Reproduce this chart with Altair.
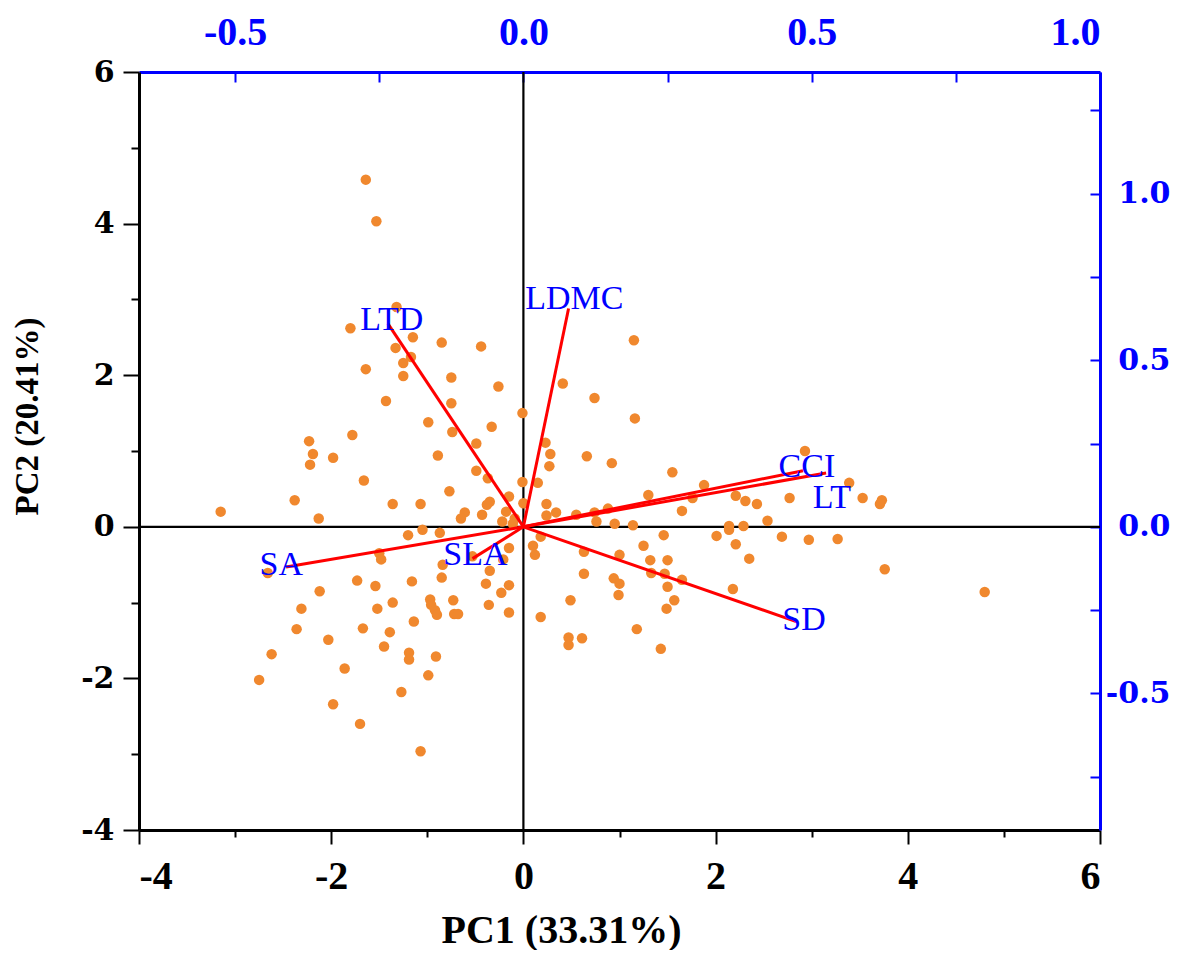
import altair as alt
import pandas as pd

# ---- PCA scores (PC1, PC2) ----
pc1 = [-1.64,-1.53,-1.32,-1.80,-1.15,-1.33,-0.85,-0.44,-1.17,-1.25,-1.64,-1.25,-0.75,-0.26,-1.43,-0.75,-0.01,-0.99,-0.33,-0.74,
       -1.78,-2.23,-0.49,-2.19,-1.98,-0.89,-2.22,-0.49,-1.66,-0.37,-0.01,-0.77,-2.38,-1.36,-1.07,-0.35,-0.38,-0.15,-3.15,-2.13,
       -0.61,-0.65,-0.43,-0.18,0.00,
       1.15,0.41,0.74,1.16,0.23,0.28,0.27,0.66,0.92,2.93,1.55,3.39,0.15,1.88,1.30,1.76,2.21,2.31,2.43,2.77,3.53,3.73,3.71,0.24,
       0.34,0.24,0.55,0.74,0.88,1.65,0.76,0.95,1.14,2.14,2.29,2.54,-0.09,-0.22,
       4.80,3.76,3.27,2.97,2.69,2.35,2.21,2.14,2.01,2.18,0.10,0.12,0.18,0.63,0.63,0.49,0.18,0.47,0.47,0.61,1.00,0.94,1.00,0.99,
       1.18,1.25,1.32,1.46,1.50,1.33,1.47,1.65,1.50,1.57,1.49,1.43,
       -1.20,-1.05,-0.87,-0.11,-1.50,-1.48,-0.84,-0.15,-0.21,-0.35,-0.53,-1.73,-1.54,-1.16,-0.85,-0.39,-0.15,-0.23,-2.12,-2.31,
       -1.52,-1.36,-0.97,-0.96,-0.92,-0.90,-0.73,-0.72,-0.68,-0.36,-0.15,-2.36,-2.03,-1.67,-1.39,-1.14,-2.62,-1.45,-1.19,-1.19,
       -0.91,-1.86,-0.99,-2.75,-1.27,-1.98,-1.70,-1.07,-2.66]
pc2 = [4.58,4.03,2.90,2.62,2.50,2.36,2.43,2.38,2.24,2.16,2.08,1.99,1.97,1.85,1.66,1.63,1.50,1.38,1.32,1.25,
       1.21,1.13,1.10,0.96,0.91,0.94,0.82,0.74,0.61,0.64,0.59,0.47,0.35,0.30,0.30,0.33,0.29,0.40,0.20,0.11,
       0.19,0.11,0.16,0.20,0.31,
       2.46,1.89,1.70,1.43,1.11,0.96,0.80,0.93,0.84,1.00,0.72,0.58,0.58,0.55,0.42,0.38,0.41,0.34,0.30,0.38,0.38,0.35,0.30,0.30,
       0.19,0.15,0.16,0.19,0.24,0.21,0.07,0.04,0.02,0.01,0.01,0.08,0.11,0.07,
       -0.86,-0.56,-0.16,-0.17,-0.13,-0.42,-0.23,-0.04,-0.12,-0.82,-0.25,-0.37,-0.13,-0.33,-0.62,-0.97,-1.19,-1.46,-1.56,-1.47,-0.37,-0.68,-0.75,-0.90,
       -1.35,-0.25,-0.44,-0.11,-0.44,-0.61,-0.62,-0.70,-0.79,-0.97,-1.08,-1.61,
       -0.11,-0.04,-0.08,0.04,-0.35,-0.43,-0.50,-0.28,-0.43,-0.58,-0.39,-0.71,-0.78,-0.72,-0.67,-0.75,-0.77,-0.87,-0.85,-1.08,
       -1.08,-1.00,-0.96,-1.03,-1.10,-1.16,-0.97,-1.15,-1.15,-1.03,-1.13,-1.35,-1.49,-1.34,-1.39,-1.25,-1.68,-1.58,-1.66,-1.75,
       -1.71,-1.87,-1.96,-2.02,-2.18,-2.34,-2.60,-2.96,-0.61]

# ---- loading vectors (end points, drawn in score units) ----
trait = ["LTD", "LDMC", "CCI", "LT", "SA", "SLA", "SD"]
vec_x = [-1.41, 0.47, 2.91, 3.15, -2.47, -0.53, 2.84]
vec_y = [2.68, 2.88, 0.74, 0.71, -0.53, -0.42, -1.25]
lab_x = [-1.37, 0.53, 2.95, 3.21, -2.52, -0.50, 2.92]
lab_y = [2.73, 3.01, 0.79, 0.38, -0.50, -0.37, -1.23]

bottom_ticks = [-4, -3, -2, -1, 0, 1, 2, 3, 4, 5, 6]
left_ticks = [-4, -3, -2, -1, 0, 1, 2, 3, 4, 5, 6]
top_ticks = [-0.5, -0.25, 0.0, 0.25, 0.5, 0.75, 1.0]
right_ticks = [-0.75, -0.5, -0.25, 0.0, 0.25, 0.5, 0.75, 1.0, 1.25]

X_DOM = [-4, 6]
Y_DOM = [-4, 6]
TOP_DOM = [-0.6667, 1.0]
RIGHT_DOM = [-0.91, 1.365]

BLUE = "#0000FF"
ORANGE = "#F0882E"

scores = pd.DataFrame({"pc1": pc1, "pc2": pc2})
vecs = pd.DataFrame({"trait": trait, "x0": 0.0, "y0": 0.0, "x": vec_x, "y": vec_y,
                     "lx": lab_x, "ly": lab_y})

xs = alt.Scale(domain=X_DOM, nice=False, zero=False)
ys = alt.Scale(domain=Y_DOM, nice=False, zero=False)

# zero lines
zero_v = alt.Chart(pd.DataFrame({"v": [0.0]})).mark_rule(color="black", strokeWidth=2.2).encode(
    x=alt.X("v:Q", scale=xs, axis=None))
zero_h = alt.Chart(pd.DataFrame({"v": [0.0]})).mark_rule(color="black", strokeWidth=2.2).encode(
    y=alt.Y("v:Q", scale=ys, axis=None))

minor_odd = "datum.value % 2 != 0"

points = alt.Chart(scores).mark_circle(size=110, color=ORANGE, opacity=1).encode(
    x=alt.X("pc1:Q", scale=xs, axis=alt.Axis(
        orient="bottom", values=bottom_ticks, grid=False,
        labelExpr="datum.value % 2 == 0 ? '' + datum.value : ''",
        labelFont="Liberation Serif", labelFontWeight="bold", labelFontSize=40, labelColor="black",
        labelPadding=12, labelBaseline="top",
        tickColor="black", tickWidth=2,
        tickSize={"condition": {"test": minor_odd, "value": 7}, "value": 14},
        domainColor="black", domainWidth=3,
        title="PC1 (33.31%)", titleFont="Liberation Serif", titleFontWeight="bold",
        titleFontSize=40, titleColor="black", titleX=422, titleY=112,
        titleAlign="center", titleBaseline="alphabetic")),
    y=alt.Y("pc2:Q", scale=ys, axis=alt.Axis(
        orient="left", values=left_ticks, grid=False,
        labelExpr="datum.value % 2 == 0 ? '' + datum.value : ''",
        labelFont="DejaVu Serif", labelFontWeight="bold", labelFontSize=30, labelColor="black",
        labelPadding=9,
        tickColor="black", tickWidth=2,
        tickSize={"condition": {"test": minor_odd, "value": 8}, "value": 16},
        domainColor="black", domainWidth=3,
        title="PC2 (20.41%)", titleFont="Liberation Serif", titleFontWeight="bold",
        titleFontSize=33, titleColor="black", titleAngle=270, titleX=-112, titleY=344,
        titleAlign="center", titleBaseline="middle")),
)

lines = alt.Chart(vecs).mark_rule(color="#FF0000", strokeWidth=3).encode(
    x=alt.X("x0:Q", scale=xs, axis=None),
    y=alt.Y("y0:Q", scale=ys, axis=None),
    x2="x:Q", y2="y:Q")

labels = alt.Chart(vecs).mark_text(
    font="Liberation Serif", fontSize=34, color=BLUE, align="center", baseline="middle").encode(
    x=alt.X("lx:Q", scale=xs, axis=None),
    y=alt.Y("ly:Q", scale=ys, axis=None),
    text="trait:N")

half = "abs(datum.value*2 - round(datum.value*2)) < 0.001"
lab05 = "(datum.value < 0 ? '-' : '') + format(abs(datum.value), '.1f')"

axis_layer = alt.Chart(pd.DataFrame({"t": TOP_DOM, "r": RIGHT_DOM})).mark_point(opacity=0).encode(
    x=alt.X("t:Q", scale=alt.Scale(domain=TOP_DOM, nice=False, zero=False), axis=alt.Axis(
        orient="top", values=top_ticks, grid=False,
        labelExpr=f"{half} ? {lab05} : ''",
        labelFont="Liberation Serif", labelFontWeight="bold", labelFontSize=40, labelColor=BLUE,
        labelPadding=38, labelBaseline="alphabetic",
        tickColor=BLUE, tickWidth=2, tickSize={"expr": "-10"},
        domainColor=BLUE, domainWidth=3, title=None)),
    y=alt.Y("r:Q", scale=alt.Scale(domain=RIGHT_DOM, nice=False, zero=False), axis=alt.Axis(
        orient="right", values=right_ticks, grid=False,
        labelExpr=f"{half} ? {lab05} : ''",
        labelFont="DejaVu Serif", labelFontWeight="bold", labelFontSize=30, labelColor=BLUE,
        labelPadding=80, labelAlign="right", labelBaseline="middle",
        tickColor=BLUE, tickWidth=2, tickSize={"expr": "-10"},
        domainColor=BLUE, domainWidth=3, title=None)),
)

chart = alt.layer(zero_v, zero_h, points, lines, labels, axis_layer).resolve_scale(
    x="independent", y="independent"
).properties(
    width=961, height=758,
    padding={"left": 131, "top": 64, "right": 72, "bottom": 120},
    autosize=alt.AutoSizeParams(type="none"),
    background="white",
).configure_view(stroke=None)

chart.save("out.html", embed_options={"renderer": "svg", "actions": False})
